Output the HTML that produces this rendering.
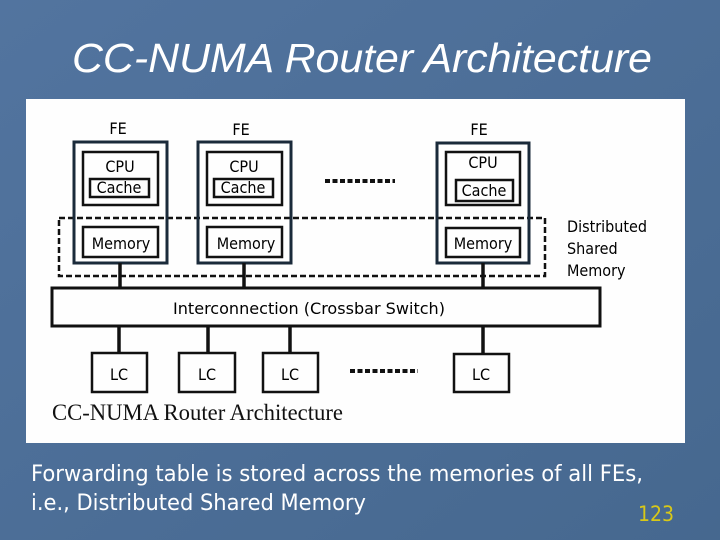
<!DOCTYPE html>
<html><head><meta charset="utf-8"><style>
body{margin:0;width:720px;height:540px;overflow:hidden;background:#4c6f9c;}
svg{display:block}
</style></head><body>
<svg width="720" height="540" xmlns="http://www.w3.org/2000/svg" font-family="'DejaVu Sans Condensed','Liberation Sans',sans-serif">
<defs><linearGradient id="bg" x1="0" y1="0" x2="1" y2="1"><stop offset="0" stop-color="#52749f"/><stop offset="1" stop-color="#46688f"/></linearGradient></defs>
<rect width="720" height="540" fill="url(#bg)"/>
<text x="362" y="72" text-anchor="middle" font-family="'Liberation Sans',sans-serif" font-size="41" fill="#fff" font-style="italic" textLength="580" lengthAdjust="spacingAndGlyphs">CC-NUMA Router Architecture</text>
<rect x="26" y="99" width="659" height="344" fill="#fefefe"/>
<g fill="none" stroke="#111" stroke-width="2.5">
<rect x="52" y="288" width="548" height="38" stroke-width="3"/>
<rect x="59" y="218" width="486" height="58" stroke-dasharray="6,3" stroke-width="2.5"/>
<g stroke="#1a2a3a" stroke-width="3">
<rect x="74" y="142" width="93" height="121"/><rect x="198" y="142" width="93" height="121"/><rect x="437" y="143" width="92" height="120"/>
</g>
<rect x="83" y="152" width="75" height="53"/><rect x="207" y="152" width="75" height="53"/><rect x="446" y="152" width="74" height="53"/>
<rect x="90" y="179" width="59" height="18"/><rect x="214" y="179" width="59" height="18"/><rect x="456" y="180" width="57" height="21"/>
<rect x="83" y="227" width="75" height="30"/><rect x="207" y="227" width="75" height="30"/><rect x="446" y="228" width="74" height="29"/>
<rect x="92" y="353" width="55" height="39"/><rect x="179" y="353" width="56" height="39"/><rect x="263" y="353" width="55" height="39"/><rect x="454" y="354" width="55" height="38"/>
<path d="M120 263V288M244 263V288M483 263V288M119 326V353M208 326V353M290 326V353M483 326V354" stroke-width="3.5"/>
</g>
<g stroke="#111" stroke-width="4" stroke-dasharray="5,2.5"><path d="M325 181H395M350 371H418"/></g>
<g fill="#000" font-size="16" text-anchor="middle">
<text x="118" y="134">FE</text><text x="241" y="135">FE</text><text x="479" y="135">FE</text>
<text x="120" y="172">CPU</text><text x="244" y="172">CPU</text><text x="483" y="168">CPU</text>
<text x="119" y="193">Cache</text><text x="243" y="193">Cache</text><text x="484" y="196">Cache</text>
<text x="121" y="249">Memory</text><text x="246" y="249">Memory</text><text x="483" y="249">Memory</text>
<text x="309" y="314" textLength="272" lengthAdjust="spacingAndGlyphs">Interconnection (Crossbar Switch)</text>
<text x="119" y="380">LC</text><text x="207" y="380">LC</text><text x="290" y="380">LC</text><text x="481" y="380">LC</text>
</g>
<g fill="#000" font-size="16"><text x="567" y="232">Distributed</text><text x="567" y="254">Shared</text><text x="567" y="276">Memory</text></g>
<text x="52" y="420" font-family="'Liberation Serif',serif" font-size="23" fill="#111" textLength="291" lengthAdjust="spacingAndGlyphs">CC-NUMA Router Architecture</text>
<g fill="#fff" font-size="22"><text x="31" y="481" textLength="612" lengthAdjust="spacingAndGlyphs">Forwarding table is stored across the memories of all FEs,</text>
<text x="31" y="510" textLength="335" lengthAdjust="spacingAndGlyphs">i.e., Distributed Shared Memory</text></g>
<text x="638" y="521" font-size="21" fill="#d8c818">123</text>
</svg>
</body></html>
